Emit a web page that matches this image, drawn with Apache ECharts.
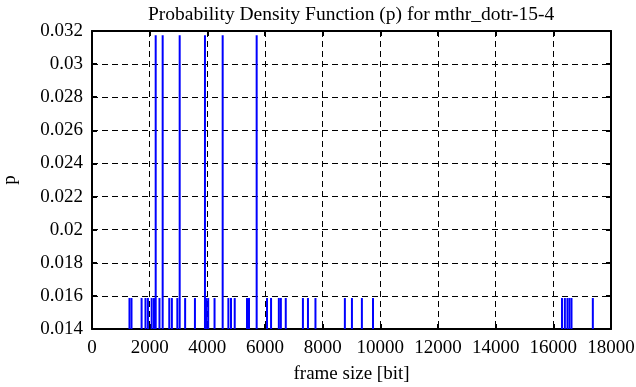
<!DOCTYPE html>
<html><head><meta charset="utf-8">
<script src="https://cdn.jsdelivr.net/npm/echarts@6/dist/echarts.min.js"></script>
<style>html,body{margin:0;padding:0;background:#fff}#c{width:636px;height:387px}</style>
</head><body><div id="c"></div>
<script>
const titleText = "Probability Density Function (p) for mthr_dotr-15-4";
const xLabel = "frame size [bit]";
const yLabel = "p";
const frameSizes = [1300,1370,1720,1855,1940,2070,2150,2209,2340,2451,2680,2770,2960,3041,3230,3570,3918,3960,4030,4250,4532,4730,4820,4950,5375,5445,5711,6070,6210,6480,6550,6720,7315,7490,7750,8770,9015,9360,9745,16300,16400,16490,16560,16630,17370];
const probs = [0.01587,0.01587,0.01587,0.01587,0.01587,0.01587,0.01587,0.03175,0.01587,0.03175,0.01587,0.01587,0.01587,0.03175,0.01587,0.01587,0.03175,0.01587,0.01587,0.01587,0.03175,0.01587,0.01587,0.01587,0.01587,0.01587,0.03175,0.01587,0.01587,0.01587,0.01587,0.01587,0.01587,0.01587,0.01587,0.01587,0.01587,0.01587,0.01587,0.01587,0.01587,0.01587,0.01587,0.01587,0.01587];
const xMin = 0, xMax = 18000, xStep = 2000;
const yMin = 0.014, yMax = 0.032, yStep = 0.002;

const font = "Liberation Serif";
const fs = 19;
const chart = echarts.init(document.getElementById('c'), null, {renderer:'canvas'});
const axisCommon = {
  axisLine:{show:true, onZero:false, lineStyle:{color:'#000', width:2}},
  axisTick:{show:true, inside:true, length:5, lineStyle:{color:'#000', width:2}},
};
chart.setOption({
  animation:false,
  backgroundColor:'#fff',
  title:{text:titleText, left:143, top:0, textStyle:{fontFamily:font, fontSize:19.5, fontWeight:'normal', color:'#000'}},
  grid:{left:92, right:25, top:31, bottom:58, containLabel:false, outerBoundsMode:'none'},
  xAxis:[{
    type:'value', min:xMin, max:xMax, interval:xStep, position:'bottom',
    name:xLabel, nameLocation:'middle', nameGap:36,
    nameTextStyle:{fontFamily:font, fontSize:fs, color:'#000'},
    axisLabel:{fontFamily:font, fontSize:fs, color:'#000', margin:10, formatter:v=>String(v)},
    splitLine:{show:true, lineStyle:{color:'#000', type:[6,4], width:1}},
    ...axisCommon
  },{
    type:'value', min:xMin, max:xMax, interval:xStep, position:'top',
    axisLabel:{show:false}, splitLine:{show:false}, ...axisCommon
  }],
  yAxis:[{
    type:'value', min:yMin, max:yMax, interval:yStep, position:'left',
    name:yLabel, nameLocation:'middle', nameGap:72, nameRotate:90,
    nameTextStyle:{fontFamily:font, fontSize:fs, color:'#000'},
    axisLabel:{fontFamily:font, fontSize:fs, color:'#000', margin:9, formatter:v=>String(+v.toFixed(3))},
    splitLine:{show:true, lineStyle:{color:'#000', type:[6,4], width:1}},
    ...axisCommon
  },{
    type:'value', min:yMin, max:yMax, interval:yStep, position:'right',
    axisLabel:{show:false}, splitLine:{show:false}, ...axisCommon
  }],
  series:[{
    type:'bar', xAxisIndex:0, yAxisIndex:0,
    data: frameSizes.map((x,i)=>[x, probs[i]]),
    barWidth:2, barGap:'-100%',
    itemStyle:{color:'#0000ff'},
    clip:true, z:5
  }]
});
</script></body></html>
